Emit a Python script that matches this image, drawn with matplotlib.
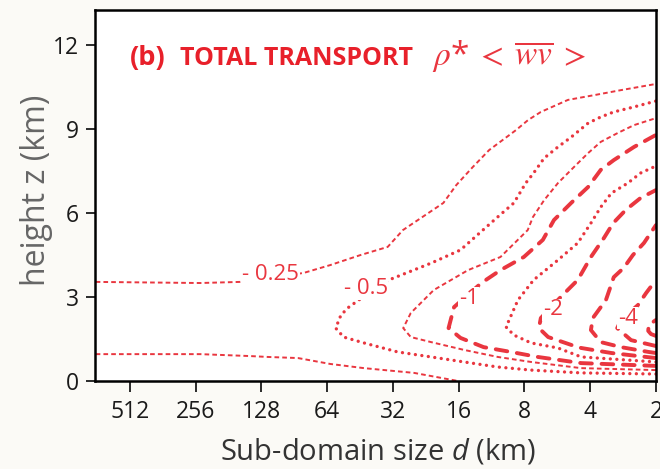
import numpy as np
import matplotlib
matplotlib.use('Agg')
import matplotlib.pyplot as plt

# contour lines of rho* <wv> (d = sub-domain size km, z = height km)
# -0.25 : two separate branches
c025_top_d = [734, 244, 160, 82, 62, 45, 33.8, 28.8, 18.8, 16.4, 13.8, 11.6, 8.75, 7.7, 6.73, 5.06, 3.84, 2.89, 2]
c025_top_z = [3.54, 3.50, 3.54, 3.86, 4.14, 4.5, 4.79, 5.39, 6.36, 7.0, 7.64, 8.25, 8.96, 9.32, 9.61, 10.04, 10.21, 10.39, 10.61]
c025_bot_d = [734, 244, 143, 120, 87, 62, 43.4, 25.6, 16.1]
c025_bot_z = [0.96, 0.96, 0.89, 0.86, 0.82, 0.61, 0.46, 0.29, 0.0]
# -0.5
c05_d = [2, 4.4, 7.46, 10.6, 15.1, 21.4, 30.5, 43.4, 53.8, 58.5, 55.3, 50.9, 45.9, 33.4, 21.4, 15.7, 12.4,
         10.6, 8.94, 7.89, 7.26, 6.5, 5.62, 4.89, 4.09, 3.58, 3.12, 2.52, 2]
c05_z = [0.25, 0.29, 0.39, 0.5, 0.68, 0.86, 1.04, 1.36, 1.57, 1.89, 2.36, 2.64, 2.89, 3.61, 4.21, 4.68, 5.39,
         5.86, 6.36, 7.07, 7.43, 7.96, 8.36, 8.71, 9.21, 9.43, 9.61, 9.79, 10.0]
# -0.75
c075_d = [2, 4.4, 7.46, 10.6, 15.1, 21.4, 26.5, 28.7, 26.5, 20.8, 14.5, 10.3, 7.73, 7.31, 6.5, 5.62, 4.75,
          4.09, 3.58, 2.99, 2.52, 2]
c075_z = [0.39, 0.46, 0.68, 0.86, 1.11, 1.39, 1.57, 1.89, 2.43, 3.25, 3.96, 4.43, 5.39, 5.86, 6.46, 7.07, 7.64,
          8.14, 8.54, 8.86, 9.14, 9.39]
# -1
c1_d = [2, 4.4, 6.96, 9.25, 12.3, 15.7, 17.8, 16.8, 12.6, 10.3, 8.05, 6.59, 5.86, 4.89, 4.09, 3.58, 3.12, 2.52, 2]
c1_z = [0.54, 0.64, 0.86, 1.04, 1.21, 1.54, 1.89, 2.64, 3.5, 3.96, 4.43, 5.04, 5.75, 6.36, 6.93, 7.54, 7.89, 8.36, 8.79]
# -1.5
c15_d = [2, 4.4, 5.62, 7.46, 8.94, 9.71, 8.57, 7.26, 5.62, 4.56, 3.97, 3.58, 3.2, 2.69, 2.35, 2]
c15_z = [0.68, 0.86, 1.18, 1.36, 1.64, 1.93, 2.89, 3.61, 4.32, 4.93, 5.64, 6.21, 6.71, 7.07, 7.43, 7.68]
# -2
c2_d = [2, 3.2, 4.4, 4.89, 6.23, 6.87, 6.73, 5.35, 4.56, 3.97, 3.46, 3.14, 2.75, 2.35, 2]
c2_z = [0.82, 1.0, 1.18, 1.29, 1.57, 1.89, 2.25, 3.07, 3.61, 4.43, 5.11, 5.64, 6.11, 6.54, 6.82]
# -3
c3_d = [2, 2.17, 2.89, 3.58, 3.97, 3.89, 3.39, 3.12, 2.81, 2.55, 2.27, 2]
c3_z = [1.0, 1.04, 1.21, 1.39, 1.82, 2.25, 2.89, 3.71, 4.04, 4.5, 4.93, 5.57]
# -4
c4_d = [2, 2.6, 3.01, 2.89, 2.42, 2.22, 2]
c4_z = [1.25, 1.46, 1.89, 2.18, 2.71, 3.14, 3.61]
# innermost
c6_d = [2, 2.11, 2.17, 2.16, 2]
c6_z = [1.61, 1.68, 1.79, 2.0, 2.18]

# contour labels
lab_text = ['- 0.25', '- 0.5', '-1', '-2', '-4']
lab_d = [116, 42.5, 14.4, 5.94, 2.69]
lab_z = [3.79, 3.29, 2.96, 2.54, 2.25]

d_ticks = [512, 256, 128, 64, 32, 16, 8, 4, 2]
z_ticks = [0, 3, 6, 9, 12]

red = '#e9363f'
plt.rcParams['font.family'] = ['Open Sans', 'DejaVu Sans']
plt.rcParams['mathtext.fontset'] = 'custom'
plt.rcParams['mathtext.rm'] = 'Open Sans'
plt.rcParams['mathtext.it'] = 'Open Sans:italic'

fig = plt.figure(figsize=(6.6, 4.69), dpi=100, facecolor='#fbfaf6')
ax = fig.add_axes([0.1439, 0.1876, 0.85, 0.791])
ax.set_facecolor('white')

fine = dict(color=red, lw=1.4, dashes=(2.4, 1.6), solid_capstyle='butt')
dots = dict(color=red, lw=2.4, dashes=(0.01, 1.95), dash_capstyle='round')
longd = dict(color=red, lw=2.8, dashes=(3.0, 2.5), dash_capstyle='round')

ax.plot(c025_top_d, c025_top_z, **fine)
ax.plot(c025_bot_d, c025_bot_z, **fine)
ax.plot(c05_d, c05_z, **dots)
ax.plot(c075_d, c075_z, **fine)
ax.plot(c1_d, c1_z, **longd)
ax.plot(c15_d, c15_z, **dots)
ax.plot(c2_d, c2_z, **longd)
ax.plot(c3_d, c3_z, **longd)
ax.plot(c4_d, c4_z, **longd)
ax.plot(c6_d, c6_z, **longd)

for t, d, z in zip(lab_text, lab_d, lab_z):
    ax.text(d, z, t, color=red, fontsize=16, ha='center', va='center',
            bbox=dict(facecolor='white', edgecolor='none', pad=0.3))

ax.set_xscale('log', base=2)
ax.set_xlim(2 ** 9.53, 2)
ax.set_ylim(0, 13.25)
ax.set_xticks(d_ticks)
ax.set_xticklabels([str(v) for v in d_ticks])
ax.minorticks_off()
ax.set_yticks(z_ticks)
ax.tick_params(axis='x', length=8, width=1.3, labelsize=16.5, pad=6, colors='#1a1a1a')
ax.tick_params(axis='y', length=6.5, width=1.3, labelsize=16.5, pad=5, colors='#1a1a1a')
for s in ax.spines.values():
    s.set_linewidth(1.8)

ax.set_xlabel('Sub-domain size $\\mathit{d}$ (km)', fontsize=21, color='#333333')
ax.xaxis.set_label_coords(0.505, -0.15)
ax.set_ylabel('height z (km)', fontsize=23, color='#666666')
ax.yaxis.set_label_coords(-0.075, 0.515)

ax.text(0.062, 0.852, '(b)', transform=ax.transAxes, color='#e8202a', fontsize=19.5,
        fontweight='bold', va='baseline')
ax.text(0.1515, 0.852, 'TOTAL TRANSPORT', transform=ax.transAxes, color='#e8202a', fontsize=18,
        fontweight='bold', va='baseline')
ax.text(0.6, 0.852, r'$\rho$*$\;<\;\overline{wv}\;>$', transform=ax.transAxes, color=red, fontsize=24,
        va='baseline', math_fontfamily='stix')

fig.savefig('out.png', dpi=100, facecolor=fig.get_facecolor())
